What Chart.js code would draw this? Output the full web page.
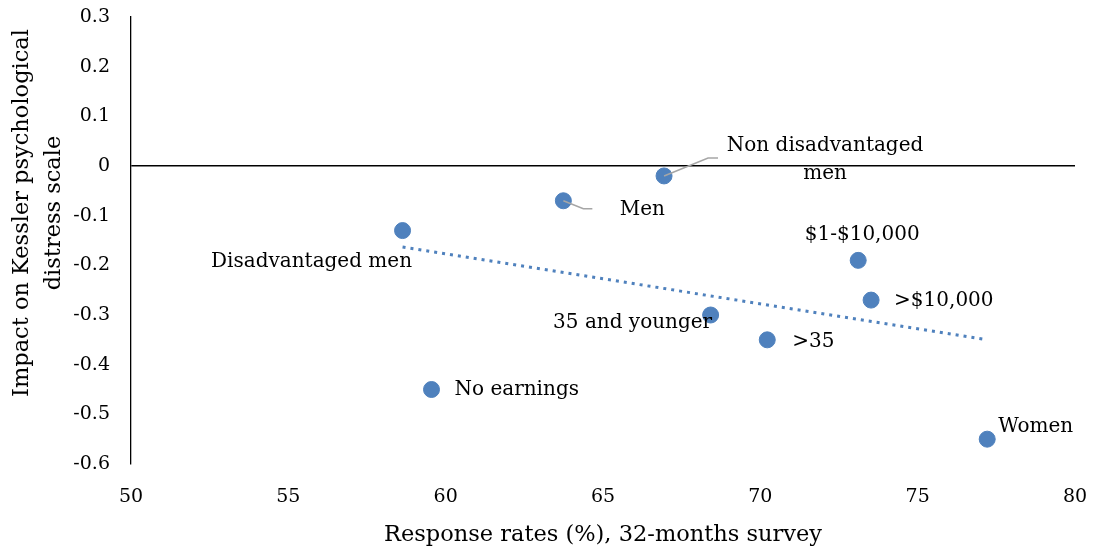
<!DOCTYPE html>
<html>
<head>
<meta charset="utf-8">
<script src="https://cdn.jsdelivr.net/npm/chart.js@4"></script>
<style>
  html, body { margin: 0; padding: 0; background: #fff; }
  #wrap { width: 1093px; height: 553px; }
</style>
</head>
<body>
<div id="wrap"><canvas id="c" width="1093" height="553"></canvas></div>
<script>
// Subgroups and their response rates / estimated impacts
const groups = ['Disadvantaged men', 'No earnings', 'Men', 'Non disadvantaged men',
                '35 and younger', '>35', '$1-$10,000', '>$10,000', 'Women'];
const responseRates = [58.63, 59.55, 63.74, 66.94, 68.42, 70.22, 73.11, 73.52, 77.21];
const impacts = [-0.13, -0.45, -0.07, -0.02, -0.30, -0.35, -0.19, -0.27, -0.55];

// Linear trend endpoints
const trendX = [58.63, 77.21];
const trendY = [-0.163, -0.350];

// Axis ranges and titles
const xTicks = [50, 55, 60, 65, 70, 75, 80];
const yTicks = [0.3, 0.2, 0.1, 0, -0.1, -0.2, -0.3, -0.4, -0.5, -0.6];
const xTitle = 'Response rates (%), 32-months survey';
const yTitle = ['Impact on Kessler psychological', 'distress scale'];

const FONT = '"DejaVu Serif", "Liberation Serif", serif';
const BLUE = '#4F81BD';

// Where each label sits relative to its point (and optional leader line)
const labelPlacement = [
  { dx: -91, dy: 31, align: 'center' },
  { dx: 23, dy: 0, align: 'left' },
  { dx: 79, dy: 9, align: 'center', leader: [[20, 8], [29, 8]] },
  { dx: 161, dy: -30, align: 'center', lines: ['Non disadvantaged', 'men'], lineGap: 28, leader: [[44, -18], [54, -18]] },
  { dx: -78, dy: 8, align: 'center' },
  { dx: 25, dy: 2, align: 'left' },
  { dx: 4, dy: -26, align: 'center' },
  { dx: 23, dy: 1, align: 'left' },
  { dx: 11, dy: -12, align: 'left' }
];

const pointLabels = {
  id: 'pointLabels',
  afterDatasetsDraw(chart) {
    const ctx = chart.ctx;
    const meta = chart.getDatasetMeta(0);
    ctx.save();
    ctx.font = '20px ' + FONT;
    ctx.fillStyle = '#000';
    ctx.textBaseline = 'middle';
    meta.data.forEach((pt, i) => {
      const p = labelPlacement[i];
      if (p.leader) {
        ctx.beginPath();
        ctx.strokeStyle = '#A6A6A6';
        ctx.lineWidth = 1.5;
        ctx.moveTo(pt.x, pt.y);
        p.leader.forEach(([lx, ly]) => ctx.lineTo(pt.x + lx, pt.y + ly));
        ctx.stroke();
      }
      ctx.textAlign = p.align;
      const lines = p.lines || [groups[i]];
      lines.forEach((t, k) => {
        ctx.fillText(t, pt.x + p.dx, pt.y + p.dy + k * (p.lineGap || 0));
      });
    });
    ctx.restore();
  }
};

const axisTitles = {
  id: 'axisTitles',
  afterDraw(chart) {
    const ctx = chart.ctx;
    const area = chart.chartArea;
    ctx.save();
    ctx.fillStyle = '#000';
    ctx.font = '22.5px ' + FONT;
    ctx.textAlign = 'center';
    ctx.textBaseline = 'middle';
    ctx.fillText(xTitle, (area.left + area.right) / 2, 535);
    ctx.translate(38, 213);
    ctx.rotate(-Math.PI / 2);
    ctx.fillText(yTitle[0], 0, -16);
    ctx.fillText(yTitle[1], 0, 16);
    ctx.restore();
  }
};

// Keep the plot area exactly where the layout padding puts it
function noScalePadding(scale) {
  scale.paddingTop = 0;
  scale.paddingBottom = 0;
  scale.paddingLeft = 0;
  scale.paddingRight = 0;
}

new Chart(document.getElementById('c'), {
  type: 'scatter',
  data: {
    datasets: [
      {
        label: 'Groups',
        data: responseRates.map((x, i) => ({ x, y: impacts[i] })),
        backgroundColor: BLUE,
        borderColor: BLUE,
        borderWidth: 1,
        pointRadius: 8,
        order: 0
      },
      {
        label: 'Trend',
        type: 'line',
        data: trendX.map((x, i) => ({ x, y: trendY[i] })),
        borderColor: BLUE,
        borderWidth: 3,
        borderDash: [3, 5],
        pointRadius: 0,
        fill: false,
        order: 1
      }
    ]
  },
  options: {
    responsive: false,
    animation: false,
    devicePixelRatio: 1,
    layout: { padding: { left: 0, right: 18, top: 17, bottom: 0 } },
    plugins: {
      legend: { display: false },
      tooltip: { enabled: false }
    },
    scales: {
      x: {
        type: 'linear',
        min: xTicks[0],
        max: xTicks[xTicks.length - 1],
        afterBuildTicks(scale) { scale.ticks = xTicks.map(v => ({ value: v })); },
        afterFit(scale) { scale.height = 89; noScalePadding(scale); },
        border: { display: false },
        grid: { display: false, drawTicks: false },
        ticks: {
          padding: 22,
          color: '#000',
          font: { family: FONT, size: 19 }
        }
      },
      y: {
        type: 'linear',
        min: yTicks[yTicks.length - 1],
        max: yTicks[0],
        afterBuildTicks(scale) { scale.ticks = yTicks.slice().reverse().map(v => ({ value: v })); },
        afterFit(scale) { scale.width = 131; noScalePadding(scale); },
        border: { display: true, color: '#000', width: 1.3 },
        grid: {
          drawTicks: false,
          lineWidth: 1.6,
          color: c => (c.tick && c.tick.value === 0 ? '#000' : 'rgba(0,0,0,0)')
        },
        ticks: {
          padding: 21,
          color: '#000',
          font: { family: FONT, size: 19 },
          callback: v => String(Math.round(v * 10) / 10)
        }
      }
    }
  },
  plugins: [pointLabels, axisTitles]
});
</script>
</body>
</html>
